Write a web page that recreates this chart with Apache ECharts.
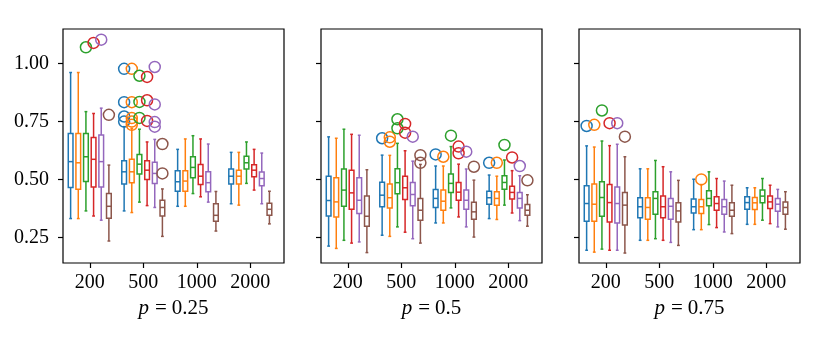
<!DOCTYPE html>
<html><head><meta charset="utf-8">
<script src="https://cdn.jsdelivr.net/npm/echarts@6/dist/echarts.min.js"></script>
<style>html,body{margin:0;padding:0;background:#fff}#c{width:830px;height:346px}</style>
</head><body><div id="c"></div>
<script>
// ---------------- DATA ----------------
const xTickLabels = ['200', '500', '1000', '2000'];
const yTickValues = [0.25, 0.5, 0.75, 1.0];
const panelLabels = ['0.25', '0.5', '0.75'];
const seriesNames = ['s1', 's2', 's3', 's4', 's5', 's6'];
const colors = ['#1f77b4', '#ff7f0e', '#2ca02c', '#d62728', '#9467bd', '#8c564b'];

// each row: [low whisker, q1, median, q3, high whisker] for n = 200, 500, 1000, 2000
// ---- p = 0.25 ----
const p25S1 = [[0.331,0.465,0.577,0.699,0.962],[0.364,0.480,0.533,0.581,0.728],[0.384,0.449,0.490,0.538,0.630],[0.395,0.480,0.514,0.545,0.617]];
const p25S2 = [[0.331,0.458,0.572,0.699,0.962],[0.357,0.486,0.533,0.587,0.721],[0.384,0.449,0.493,0.538,0.675],[0.389,0.480,0.514,0.540,0.617]];
const p25S3 = [[0.364,0.491,0.598,0.698,0.793],[0.402,0.523,0.566,0.608,0.717],[0.439,0.507,0.552,0.598,0.689],[0.483,0.545,0.572,0.600,0.662]];
const p25S4 = [[0.342,0.467,0.587,0.681,0.785],[0.387,0.500,0.540,0.581,0.662],[0.425,0.478,0.514,0.565,0.675],[0.454,0.512,0.540,0.564,0.630]];
const p25S5 = [[0.324,0.467,0.577,0.692,0.808],[0.379,0.483,0.526,0.574,0.673],[0.402,0.447,0.486,0.533,0.653],[0.395,0.473,0.504,0.532,0.614]];
const p25S6 = [[0.234,0.332,0.384,0.439,0.562],[0.254,0.342,0.379,0.410,0.459],[0.277,0.319,0.345,0.395,0.448],[0.308,0.345,0.371,0.397,0.449]];
// outliers: [group index (0..3), value]
const p25O1 = [[1,0.978],[1,0.834],[1,0.772],[1,0.750]];
const p25O2 = [[1,0.978],[1,0.834],[1,0.765],[1,0.750],[1,0.736]];
const p25O3 = [[0,1.071],[1,0.948],[1,0.835],[1,0.766]];
const p25O4 = [[0,1.090],[1,0.943],[1,0.842],[1,0.753]];
const p25O5 = [[0,1.104],[1,0.986],[1,0.824],[1,0.748],[1,0.728]];
const p25O6 = [[0,0.779],[1,0.653],[1,0.526]];

// ---- p = 0.5 ----
const p50S1 = [[0.212,0.342,0.409,0.514,0.684],[0.259,0.382,0.432,0.488,0.605],[0.312,0.379,0.418,0.457,0.558],[0.331,0.393,0.421,0.449,0.519]];
const p50S2 = [[0.202,0.338,0.403,0.507,0.678],[0.254,0.377,0.421,0.480,0.604],[0.312,0.367,0.406,0.454,0.558],[0.327,0.389,0.418,0.447,0.514]];
const p50S3 = [[0.237,0.384,0.454,0.545,0.717],[0.295,0.438,0.486,0.546,0.656],[0.377,0.444,0.483,0.523,0.642],[0.389,0.458,0.487,0.516,0.584]];
const p50S4 = [[0.225,0.371,0.442,0.540,0.695],[0.272,0.413,0.464,0.514,0.624],[0.338,0.410,0.445,0.487,0.566],[0.355,0.415,0.444,0.471,0.538]];
const p50S5 = [[0.230,0.353,0.410,0.507,0.691],[0.244,0.386,0.435,0.487,0.579],[0.295,0.371,0.410,0.454,0.545],[0.322,0.377,0.418,0.444,0.516]];
const p50S6 = [[0.184,0.298,0.341,0.429,0.542],[0.225,0.324,0.367,0.418,0.565],[0.251,0.328,0.360,0.402,0.497],[0.298,0.345,0.367,0.392,0.434]];
const p50O1 = [[1,0.678],[2,0.608],[3,0.572]];
const p50O2 = [[1,0.682],[1,0.663],[2,0.598],[3,0.572]];
const p50O3 = [[1,0.760],[1,0.721],[2,0.689],[3,0.649]];
const p50O4 = [[1,0.740],[1,0.702],[2,0.642],[2,0.613],[3,0.595]];
const p50O5 = [[1,0.685],[2,0.620],[3,0.558]];
const p50O6 = [[1,0.605],[1,0.572],[2,0.555],[3,0.496]];

// ---- p = 0.75 ----
const p75S1 = [[0.194,0.319,0.396,0.473,0.645],[0.237,0.335,0.382,0.421,0.546],[0.283,0.355,0.382,0.415,0.501],[0.306,0.371,0.400,0.425,0.464]];
const p75S2 = [[0.186,0.319,0.393,0.480,0.640],[0.237,0.328,0.379,0.421,0.546],[0.283,0.353,0.382,0.413,0.478],[0.306,0.370,0.399,0.422,0.464]];
const p75S3 = [[0.199,0.341,0.422,0.490,0.666],[0.244,0.350,0.418,0.447,0.582],[0.305,0.386,0.418,0.451,0.533],[0.324,0.399,0.428,0.454,0.504]];
const p75S4 = [[0.194,0.316,0.400,0.478,0.646],[0.237,0.334,0.382,0.428,0.555],[0.292,0.367,0.396,0.425,0.504],[0.309,0.374,0.403,0.428,0.475]];
const p75S5 = [[0.194,0.312,0.396,0.467,0.652],[0.228,0.328,0.384,0.418,0.533],[0.273,0.350,0.382,0.413,0.493],[0.295,0.363,0.393,0.418,0.457]];
const p75S6 = [[0.182,0.303,0.389,0.444,0.598],[0.215,0.316,0.364,0.399,0.496],[0.266,0.341,0.367,0.399,0.475],[0.285,0.350,0.379,0.403,0.447]];
const p75O1 = [[0,0.731]];
const p75O2 = [[0,0.736],[2,0.500]];
const p75O3 = [[0,0.798]];
const p75O4 = [[0,0.743]];
const p75O5 = [[0,0.743]];
const p75O6 = [[0,0.685]];

// ---------------- LAYOUT / STYLE ----------------
const panelStats = [
  [p25S1, p25S2, p25S3, p25S4, p25S5, p25S6],
  [p50S1, p50S2, p50S3, p50S4, p50S5, p50S6],
  [p75S1, p75S2, p75S3, p75S4, p75S5, p75S6]
];
const panelOutliers = [
  [p25O1, p25O2, p25O3, p25O4, p25O5, p25O6],
  [p50O1, p50O2, p50O3, p50O4, p50O5, p50O6],
  [p75O1, p75O2, p75O3, p75O4, p75O5, p75O6]
];
const STEP = 0.143;      // spacing between boxes within a group (data units)
const BOX_W = 0.088;     // box width (data units)
const LW = 1.5;
const FONT = 'Liberation Serif';
const gridLefts = [63, 321, 579];

function pos(g, k) { return (g + 1) + (k - 2.5) * STEP; }

function renderBox(params, api) {
  const x = api.value(0);
  const color = colors[api.value(6)];
  const lo = api.coord([x, api.value(1)]);
  const q1 = api.coord([x, api.value(2)]);
  const md = api.coord([x, api.value(3)]);
  const q3 = api.coord([x, api.value(4)]);
  const hi = api.coord([x, api.value(5)]);
  const hw = api.size([BOX_W, 0])[0] / 2;
  const cw = hw * 0.6;
  const st = { stroke: color, lineWidth: LW, fill: null };
  const cx = q1[0];
  return {
    type: 'group',
    children: [
      { type: 'line', shape: { x1: cx, y1: lo[1], x2: cx, y2: q1[1] }, style: st },
      { type: 'line', shape: { x1: cx, y1: q3[1], x2: cx, y2: hi[1] }, style: st },
      { type: 'line', shape: { x1: cx - cw, y1: lo[1], x2: cx + cw, y2: lo[1] }, style: st },
      { type: 'line', shape: { x1: cx - cw, y1: hi[1], x2: cx + cw, y2: hi[1] }, style: st },
      { type: 'rect', shape: { x: cx - hw, y: q3[1], width: 2 * hw, height: q1[1] - q3[1] }, style: st },
      { type: 'line', shape: { x1: cx - hw, y1: md[1], x2: cx + hw, y2: md[1] }, style: st }
    ]
  };
}

const grids = [], xAxes = [], yAxes = [], series = [];
for (let p = 0; p < 3; p++) {
  grids.push({ left: gridLefts[p], top: 29, width: 221, height: 234, show: true,
    borderColor: '#000', borderWidth: 1.2, backgroundColor: '#fff', containLabel: false });
  xAxes.push({
    type: 'value', gridIndex: p, min: 0.5, max: 4.63,
    axisLine: { show: false }, splitLine: { show: false },
    axisTick: { show: true, length: 5, lineStyle: { color: '#000', width: 1.2 }, customValues: [1, 2, 3, 4] },
    axisLabel: { show: true, margin: 10, color: '#000', fontFamily: FONT, fontSize: 20,
      customValues: [1, 2, 3, 4], formatter: v => xTickLabels[Math.round(v) - 1] },
    name: '{i|p}{e|=}{t|' + panelLabels[p] + '}', nameLocation: 'middle', nameGap: 29,
    nameTextStyle: { rich: {
      i: { fontFamily: FONT, fontStyle: 'italic', fontSize: 21, color: '#000' },
      e: { fontFamily: FONT, fontSize: 21, color: '#000', padding: [0, 5, 0, 6] },
      t: { fontFamily: FONT, fontSize: 21, color: '#000' } } }
  });
  yAxes.push({
    type: 'value', gridIndex: p, min: 0.139, max: 1.15,
    axisLine: { show: false }, splitLine: { show: false },
    axisTick: { show: true, length: 5, lineStyle: { color: '#000', width: 1.2 }, customValues: yTickValues },
    axisLabel: { show: p === 0, margin: 14, color: '#000', fontFamily: FONT, fontSize: 20,
      customValues: yTickValues, formatter: v => v.toFixed(2) }
  });
  for (let k = 0; k < 6; k++) {
    const boxData = panelStats[p][k].map((s, g) => [pos(g, k), s[0], s[1], s[2], s[3], s[4], k]);
    series.push({
      type: 'custom', name: seriesNames[k], xAxisIndex: p, yAxisIndex: p,
      renderItem: renderBox, data: boxData, silent: true,
      encode: { x: 0, y: [1, 2, 3, 4, 5] }
    });
    series.push({
      type: 'scatter', name: seriesNames[k] + '_out', xAxisIndex: p, yAxisIndex: p,
      symbol: 'circle', symbolSize: 11, silent: true,
      itemStyle: { color: 'rgba(0,0,0,0)', borderColor: colors[k], borderWidth: LW, opacity: 1 },
      data: panelOutliers[p][k].map(o => [pos(o[0], k), o[1]])
    });
  }
}

const chart = echarts.init(document.getElementById('c'), null, { renderer: 'canvas' });
chart.setOption({ animation: false, grid: grids, xAxis: xAxes, yAxis: yAxes, series: series });
</script></body></html>
